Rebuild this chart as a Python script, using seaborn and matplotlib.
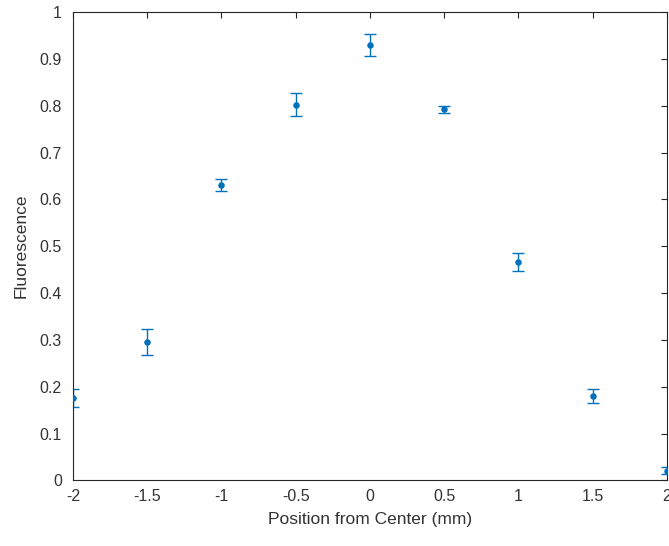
import matplotlib
matplotlib.use("Agg")
import matplotlib.pyplot as plt
import seaborn as sns
import numpy as np
import pandas as pd

positions = [-2.0, -1.5, -1.0, -0.5, 0.0, 0.5, 1.0, 1.5, 2.0]
fluorescence = [0.176, 0.296, 0.630, 0.802, 0.929, 0.792, 0.466, 0.181, 0.021]
errors = [0.019, 0.028, 0.013, 0.025, 0.023, 0.008, 0.019, 0.015, 0.008]
x_ticks = [-2, -1.5, -1, -0.5, 0, 0.5, 1, 1.5, 2]
x_tick_labels = ["-2", "-1.5", "-1", "-0.5", "0", "0.5", "1", "1.5", "2"]
y_ticks = [0, 0.1, 0.2, 0.3, 0.4, 0.5, 0.6, 0.7, 0.8, 0.9, 1]
y_tick_labels = ["0", "0.1", "0.2", "0.3", "0.4", "0.5", "0.6", "0.7", "0.8", "0.9", "1"]

df = pd.DataFrame({"pos": positions, "fl": fluorescence, "err": errors})

sns.set_style("white")
plt.rcParams["font.family"] = ["Liberation Sans", "DejaVu Sans"]

color = "#0072BD"
text_color = "#333333"
fig = plt.figure(figsize=(6.69, 5.46), dpi=100)
ax = fig.add_axes([0.109, 0.12, 0.888, 0.858])

ax.errorbar(df["pos"], df["fl"], yerr=df["err"], fmt="none", ecolor=color,
            elinewidth=1.0, capsize=4.5, capthick=1.0, zorder=2)
sns.scatterplot(data=df, x="pos", y="fl", ax=ax, color=color, s=22,
                edgecolor=color, linewidth=0, zorder=3, legend=False)

ax.set_xlim(-2, 2)
ax.set_ylim(0, 1)
ax.set_xticks(x_ticks)
ax.set_xticklabels(x_tick_labels)
ax.set_yticks(y_ticks)
ax.set_yticklabels(y_tick_labels)
ax.tick_params(direction="in", length=4, width=0.8, colors="#262626",
               labelcolor=text_color, labelsize=11.5, top=True, right=True, pad=6)
ax.tick_params(axis="y", pad=8)
for s in ax.spines.values():
    s.set_color("#262626")
    s.set_linewidth(0.8)
    s.set_visible(True)

ax.set_xlabel("Position from Center (mm)", fontsize=12.5, color=text_color, labelpad=6)
ax.set_ylabel("Fluorescence", fontsize=12.5, color=text_color, labelpad=8)

fig.savefig("out.png", dpi=100)
